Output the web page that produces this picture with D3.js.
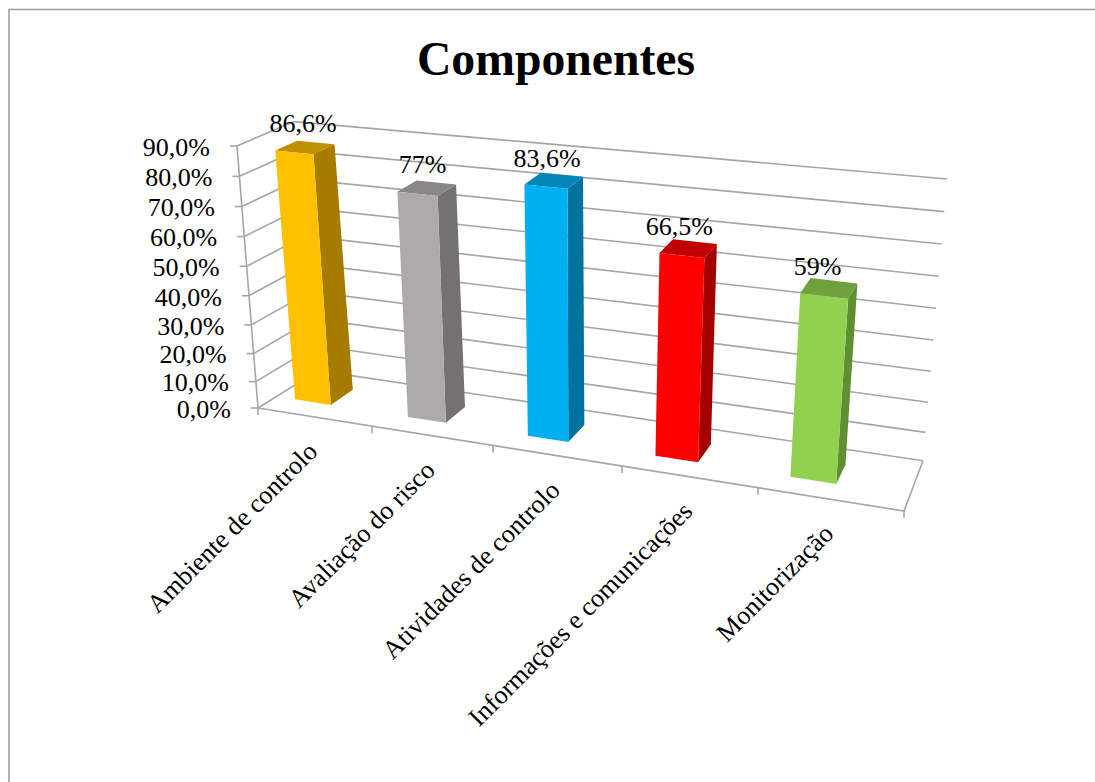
<!DOCTYPE html>
<html><head><meta charset="utf-8">
<script src="https://cdn.jsdelivr.net/npm/d3@7"></script>
<style>html,body{margin:0;padding:0;background:#fff}svg{display:block}text{font-family:"Liberation Serif",serif;fill:#000}</style>
</head><body><svg id="c" width="1095" height="782"></svg>
<script>
const categories = ["Ambiente de controlo","Avaliação do risco","Atividades de controlo","Informações e comunicações","Monitorização"];
const values = [86.6,77,83.6,66.5,59];
const valueLabels = ["86,6%","77%","83,6%","66,5%","59%"];
const yTicks = [0,10,20,30,40,50,60,70,80,90];
const faceColors = ["#FFC000","#AEAAAA","#00B0F0","#FF0000","#92D050"];
const sideColors = ["#A67C00","#757171","#0072A0","#A50000","#5F8F30"];
const topColors  = ["#BF9000","#8A8686","#0086B8","#C00000","#6EA03C"];

const svg = d3.select("#c");
const GRID = "#a6a6a6";
const fmt = d3.formatLocale({decimal:",",thousands:".",grouping:[3],currency:["","%"]}).format(".1f");

// Scales: category -> fraction along width, value -> fraction of height, depth -> fraction of depth
const tScale = d3.scaleLinear().domain([0,1,2,3,4,5]).range([258,372,493,622,758,904].map(x=>(x-258)/646));
const vScale = d3.scalePow().exponent(1.045).domain([0,90]).range([0,1]);
const dScale = d3.scaleLinear().domain([0,1]).range([0,1]);

// Perspective box corners [width, height, depth]
const C = {
  "000":[258,408],"100":[904,511],"010":[237,146],"110":[928,215],
  "001":[318,370.6],"101":[923,460.7],"011":[294,121.6],"111":[947,179]
};
function project(cat,val,depth){
  const t=tScale(cat),s=vScale(val),d=dScale(depth);
  const out=[0,0];
  for(const a of [0,1])for(const b of [0,1])for(const c of [0,1]){
    const w=(a?t:1-t)*(b?s:1-s)*(c?d:1-d);
    const p=C[""+a+b+c];
    out[0]+=w*p[0];out[1]+=w*p[1];
  }
  return out;
}
const line=d3.line();
const closed=d3.line().curve(d3.curveLinearClosed);

// Outer frame (top and left only)
svg.append("path").attr("d",line([[9,782],[9,9.5],[1095,9.5]])).attr("fill","none").attr("stroke","#999").attr("stroke-width",1.5);

// Title
svg.append("text").attr("x",556).attr("y",75).attr("text-anchor","middle")
  .attr("font-size",47.7).attr("font-weight","bold").text("Componentes");

const grid=svg.append("g").attr("fill","none").attr("stroke",GRID).attr("stroke-width",1.6);
// Gridlines on left and back walls
yTicks.forEach(v=>{
  grid.append("path").attr("d",line([project(0,v,0),project(0,v,1),project(5,v,1)]));
  const p=project(0,v,0);
  grid.append("path").attr("d",line([[p[0]-7,p[1]],p]));
  svg.append("text").attr("x",p[0]-27).attr("y",p[1]+1).attr("dy","0.34em")
    .attr("text-anchor","end").attr("font-size",26).text(fmt(v)+"%");
});
// Vertical axis, floor edges, category ticks
grid.append("path").attr("d",line([project(0,90,0),project(0,0,0)]));
grid.append("path").attr("d",line([project(0,0,0),project(5,0,0),project(5,0,1)]));
d3.range(0,6).forEach(i=>{
  const p=project(i,0,0);
  grid.append("path").attr("d",line([p,[p[0],p[1]+7]]));
});

// Bars
const uStart=0.165,uEnd=0.485,dFront=0.31,dBack=0.70;
categories.forEach((name,i)=>{
  const v=values[i],a=i+uStart,b=i+uEnd;
  const g=svg.append("g");
  const fbl=project(a,0,dFront),fbr=project(b,0,dFront),bbr=project(b,0,dBack);
  const ftl=project(a,v,dFront),ftr=project(b,v,dFront),btr=project(b,v,dBack),btl=project(a,v,dBack);
  g.append("path").attr("d",closed([fbr,bbr,btr,ftr])).attr("fill",sideColors[i]);
  g.append("path").attr("d",closed([ftl,ftr,btr,btl])).attr("fill",topColors[i]);
  g.append("path").attr("d",closed([fbl,fbr,ftr,ftl])).attr("fill",faceColors[i]);
  const cx=d3.mean([ftl,ftr,btr,btl],d=>d[0]);
  const top=d3.min([btr,btl],d=>d[1]);
  svg.append("text").attr("x",cx-2-2.4*i).attr("y",top-9+1.5*i)
    .attr("text-anchor","middle").attr("font-size",26).text(valueLabels[i]);
  // Category labels
  const p=project(i+0.5,0,0);
  svg.append("text").attr("text-anchor","end").attr("font-size",26.2)
    .attr("transform",`translate(${p[0]+4},${p[1]+36}) rotate(-45)`).text(name);
});
</script></body></html>
